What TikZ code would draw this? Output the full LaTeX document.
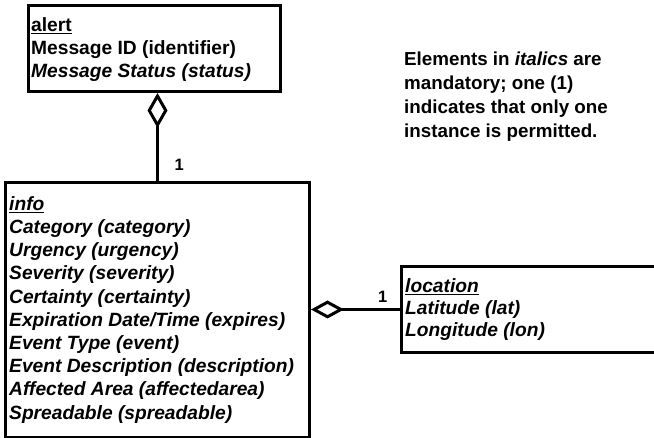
\documentclass[tikz,border=0pt]{standalone}
\usepackage{fontspec}
\setmainfont{Liberation Sans}
\usetikzlibrary{arrows.meta,calc}
\begin{document}
\begin{tikzpicture}[x=1pt,y=-1pt,
  box/.style={draw, line width=3pt, inner sep=0pt, anchor=north west, rectangle},
  txt/.style={anchor=north west, inner sep=0pt, align=left, font=\fontsize{19.2}{23.2}\selectfont\bfseries},
  notetxt/.style={anchor=north west, inner sep=0pt, align=left, font=\fontsize{18.8}{24}\selectfont\bfseries},
  mult/.style={anchor=base west, inner sep=0pt, font=\fontsize{16.5}{19}\selectfont\bfseries},
  conn/.style={line width=3pt},
  aggv/.style={-{Diamond[open,length=35pt,width=20pt]}},
  aggh/.style={-{Diamond[open,length=33pt,width=18pt]}}
]
\fill[white] (0,0) rectangle (654,438);
\useasboundingbox (0,0) rectangle (654,438);
\clip (0,0) rectangle (654,438);

% boxes
\node[box, minimum width=252pt, minimum height=86pt] (alert) at (27,4) {};
\node[box, minimum width=304pt, minimum height=255pt] (info) at (4,181) {};
\node[box, minimum width=262pt, minimum height=86pt] (location) at (400,265) {};

% texts
\node[txt] (alerttxt) at (31,14.8) {\strut\underline{alert}\\
Message ID (identifier)\\
\itshape Message Status (status)};

\node[txt, font=\fontsize{19.2}{23.2}\selectfont\bfseries\itshape] (infotxt) at (9,193.8) {\strut\underline{info}\\
Category (category)\\
Urgency (urgency)\\
Severity (severity)\\
Certainty (certainty)\\
Expiration Date/Time (expires)\\
Event Type (event)\\
Event Description (description)\\
Affected Area (affectedarea)\\
Spreadable (spreadable)};

\node[txt, font=\fontsize{19.2}{22}\selectfont\bfseries\itshape] (loctxt) at (405,276.6) {\strut\underline{location}\\
Latitude (lat)\\
Longitude (lon)};

\node[notetxt] (note) at (404,48.2) {\strut Elements in \textit{italics} are\\
mandatory; one (1)\\
indicates that only one\\
instance is permitted.};

% connectors
\draw[conn, aggv] (info.north) -- (info.north |- alert.south);
\draw[conn, aggh] (location.west) -- (location.west -| info.east);

% multiplicities
\node[mult] (m1) at ($(info.north)+(17,-10)$) {1};
\node[mult] (m2) at ($(location.west)+(-22,-7)$) {1};
\end{tikzpicture}
\end{document}
